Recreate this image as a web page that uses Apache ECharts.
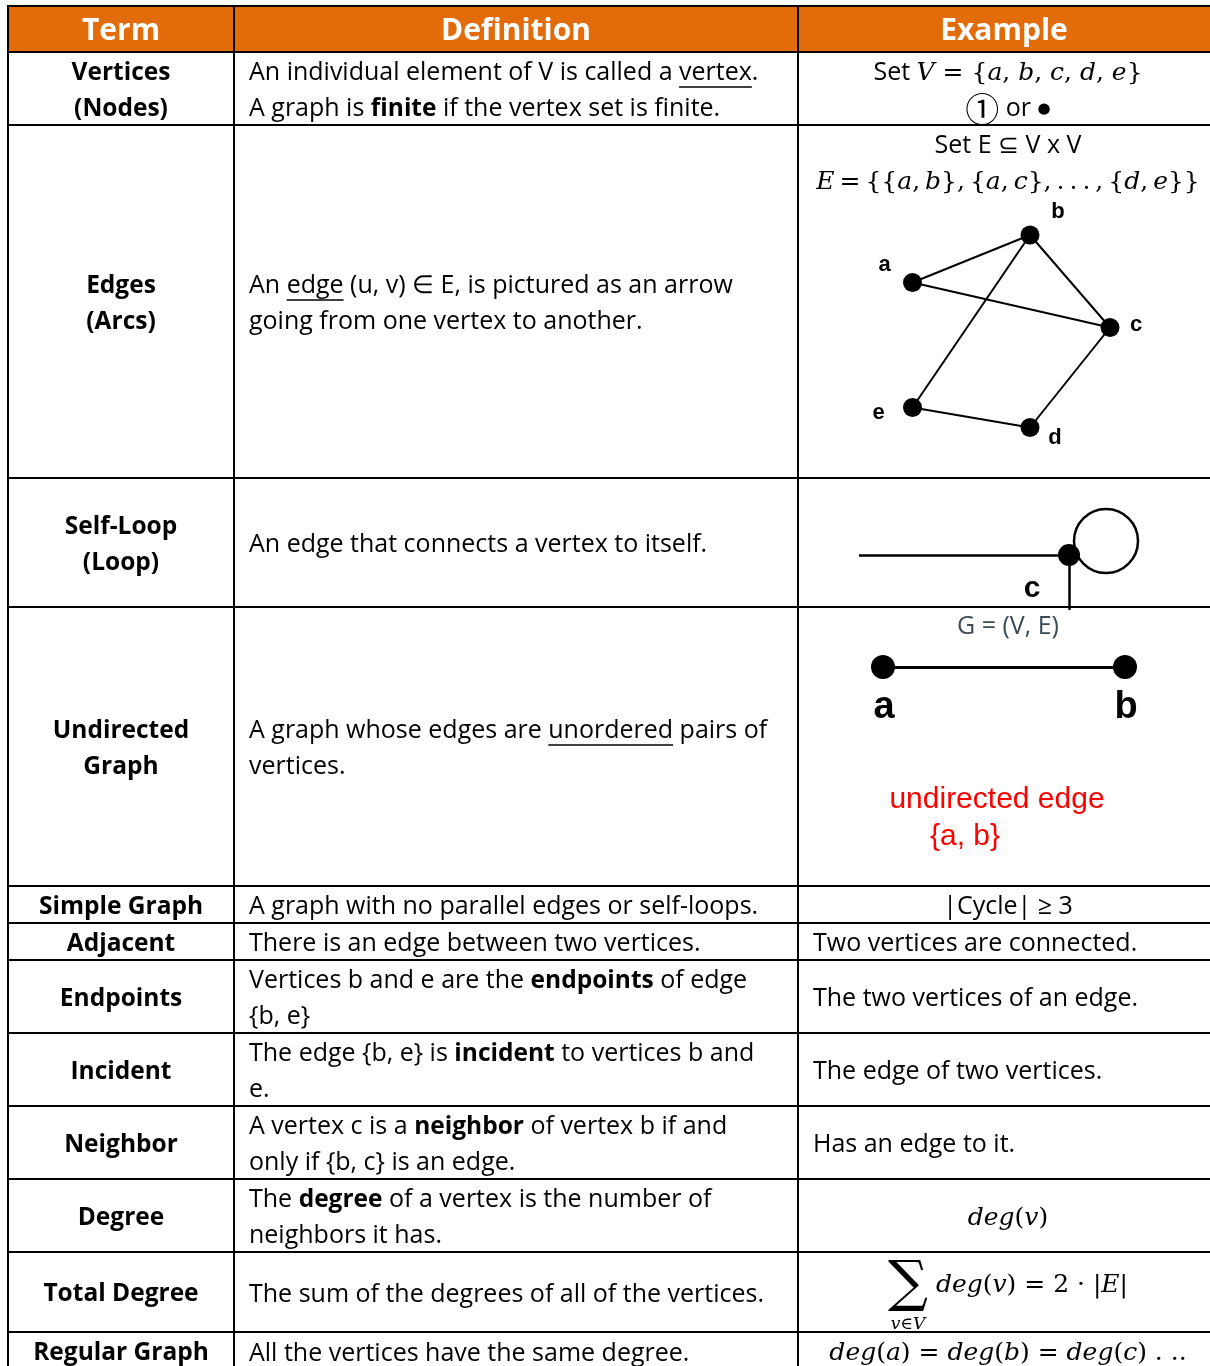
<!DOCTYPE html>
<html>
<head>
<meta charset="utf-8">
<script src="https://cdn.jsdelivr.net/npm/echarts@6/dist/echarts.min.js"></script>
<style>
  html, body { margin: 0; padding: 0; background: #fff; }
  #main { width: 1210px; height: 1366px; }
</style>
</head>
<body>
<div id="main"></div>
<script>
// ---- table text ----
// markup: **bold**, __underline__, $math italic$, ~math upright~, ^big operator^, %symbol%, @small symbol@
var headers = ['Term', 'Definition', 'Example'];
var terms = [
  ['Vertices', '(Nodes)'],
  ['Edges', '(Arcs)'],
  ['Self-Loop', '(Loop)'],
  ['Undirected', 'Graph'],
  ['Simple Graph'],
  ['Adjacent'],
  ['Endpoints'],
  ['Incident'],
  ['Neighbor'],
  ['Degree'],
  ['Total Degree'],
  ['Regular Graph']
];
var definitions = [
  ['An individual element of V is called a __vertex__.', 'A graph is **finite** if the vertex set is finite.'],
  ['An __edge__ (u, v) ∈ E, is pictured as an arrow', 'going from one vertex to another.'],
  ['An edge that connects a vertex to itself.'],
  ['A graph whose edges are __unordered__ pairs of', 'vertices.'],
  ['A graph with no parallel edges or self-loops.'],
  ['There is an edge between two vertices.'],
  ['Vertices b and e are the **endpoints** of edge', '{b, e}'],
  ['The edge {b, e} is **incident** to vertices b and', 'e.'],
  ['A vertex c is a **neighbor** of vertex b if and', 'only if {b, c} is an edge.'],
  ['The **degree** of a vertex is the number of', 'neighbors it has.'],
  ['The sum of the degrees of all of the vertices.'],
  ['All the vertices have the same degree.']
];
var examples = [
  ['Set $V$~ = {~$a$~, ~$b$~, ~$c$~, ~$d$~, ~$e$~}~', '%①% or @●@'],
  ['Set E ⊆ V x V', '$E$~\u2009=\u2009{{~$a$~,\u2009~$b$~},\u2009{~$a$~,\u2009~$c$~},\u2009.\u2009.\u2009.\u2009,\u2009{~$d$~,\u2009~$e$~}}~'],
  [],
  ['G = (V, E)'],
  ['|Cycle| ≥ 3'],
  ['Two vertices are connected.'],
  ['The two vertices of an edge.'],
  ['The edge of two vertices.'],
  ['Has an edge to it.'],
  ['$deg$~(~$v$~)~'],
  ['^∑^~ ~$deg$~(~$v$~) = 2 · |~$E$~|~'],
  ['$deg$~(~$a$~) = ~$deg$~(~$b$~) = ~$deg$~(~$c$~) . ..~']
];
var sumSubscript = 'v∈V';
var undirectedNote = ['undirected edge', '{a, b}'];

// ---- diagram data ----
// edges example (grid units)
var edgeVertices = ['a', 'b', 'c', 'd', 'e'];
var edgeVertexX = [2.1, 6.8, 10.0, 6.8, 2.1];
var edgeVertexY = [3.3, 1.4, 5.1, 9.1, 8.3];
var edgePairs = [['a', 'b'], ['a', 'c'], ['b', 'c'], ['b', 'e'], ['c', 'd'], ['d', 'e']];
// self-loop example
var loopPoints = ['', 'c', '', 'loop'];
var loopX = [9, 219, 219, 256];
var loopY = [55, 55, 110, 41];
var loopPairs = [[0, 1], [1, 2]];
// undirected example
var pairVertices = ['a', 'b'];
var pairX = [23, 265];
var pairY = [27, 27];

// ---- layout / style ----
var colX = [8, 234, 798, 1210];
var headerTop = 6, headerBottom = 52;
var rowEdges = [52, 125, 478, 607, 886, 923, 960, 1033, 1106, 1179, 1252, 1332, 1370];
var lineGap = 35.5;
var exampleAlign = ['center', 'center', 'center', 'center', 'center', 'left', 'left', 'left', 'left', 'center', 'center', 'center'];
var exampleTop = { 1: 146, 3: 627, 10: 1285 };
var fonts = {
  n: '25px "Open Sans"',
  b: 'bold 24.5px "Open Sans"',
  h: 'bold 30px "Open Sans"',
  mi: 'italic 25px "DejaVu Serif"',
  mr: '25px "DejaVu Serif"',
  big: '56px "DejaVu Serif"',
  sym: '34px "Noto Sans CJK SC"',
  dot: '15px "DejaVu Sans"'
};

var ctx = document.createElement('canvas').getContext('2d');
function textWidth(t, font) { ctx.font = font; return ctx.measureText(t).width; }

function parse(markup, baseKind) {
  var parts = markup.split(/(\*\*[^*]+\*\*|__[^_]+__|\$[^$]+\$|~[^~]+~|\^[^^]+\^|%[^%]+%|@[^@]+@)/);
  var segs = [];
  parts.forEach(function (p) {
    if (!p) return;
    if (p.indexOf('**') === 0) segs.push({ t: p.slice(2, -2), k: 'b' });
    else if (p.indexOf('__') === 0) segs.push({ t: p.slice(2, -2), k: baseKind, u: true });
    else if (p[0] === '$') segs.push({ t: p.slice(1, -1), k: 'mi' });
    else if (p[0] === '~') segs.push({ t: p.slice(1, -1), k: 'mr' });
    else if (p[0] === '^') segs.push({ t: p.slice(1, -1), k: 'big' });
    else if (p[0] === '%') segs.push({ t: p.slice(1, -1), k: 'sym' });
    else if (p[0] === '@') segs.push({ t: p.slice(1, -1), k: 'dot' });
    else segs.push({ t: p, k: baseKind });
  });
  return segs;
}

var elements = [];
// lays out one line of segments; returns them with their left x
function drawLine(markup, baseKind, x, y, align, color) {
  var segs = parse(markup, baseKind);
  var total = 0;
  segs.forEach(function (s) { s.w = textWidth(s.t, fonts[s.k]); total += s.w; });
  var cx = align === 'center' ? x - total / 2 : x;
  segs.forEach(function (s) {
    s.x = cx;
    elements.push({
      type: 'text', silent: true,
      style: { text: s.t, x: cx, y: y, font: fonts[s.k], fill: color || '#000',
        textAlign: 'left', textVerticalAlign: 'middle', align: 'left', verticalAlign: 'middle' }
    });
    if (s.u) {
      elements.push({ type: 'rect', silent: true, shape: { x: cx, y: y + 13, width: s.w, height: 1.6 }, style: { fill: '#000' } });
    }
    cx += s.w;
  });
  return segs;
}

// header
elements.push({ type: 'rect', silent: true, shape: { x: colX[0], y: headerTop, width: colX[3] - colX[0], height: headerBottom - headerTop }, style: { fill: '#E26B0A' } });
headers.forEach(function (h, i) {
  drawLine(h, 'h', (colX[i] + colX[i + 1]) / 2, 31, 'center', '#fff');
});

// rows
terms.forEach(function (lines, r) {
  var top = rowEdges[r], bottom = rowEdges[r + 1];
  var mid = (top + bottom) / 2 + 2.5;
  lines.forEach(function (t, i) {
    drawLine(t, 'b', (colX[0] + colX[1]) / 2, mid + (i - (lines.length - 1) / 2) * lineGap, 'center');
  });
  definitions[r].forEach(function (t, i) {
    var n = definitions[r].length;
    drawLine(t, 'n', colX[1] + 15, mid + (i - (n - 1) / 2) * lineGap, 'left');
  });
  var ex = examples[r];
  ex.forEach(function (t, i) {
    var y = exampleTop[r] != null ? exampleTop[r] + i * 36 : mid + (i - (ex.length - 1) / 2) * lineGap;
    var align = exampleAlign[r];
    var x = align === 'center' ? 1008 : colX[2] + 15;
    var segs = drawLine(t, 'n', x, y, align, r === 3 ? '#3b4a55' : '#000');
    if (t.indexOf('^') === 0) {
      elements.push({
        type: 'text', silent: true,
        style: { text: sumSubscript, x: segs[0].x + segs[0].w / 2, y: y + 40, font: 'italic 17px "DejaVu Serif"', fill: '#000',
          textAlign: 'center', textVerticalAlign: 'middle', align: 'center', verticalAlign: 'middle' }
      });
    }
  });
});

// red note in the undirected example
undirectedNote.forEach(function (t, i) {
  elements.push({
    type: 'text', silent: true,
    style: { text: t, x: i === 0 ? 997 : 965, y: 800 + i * 37, font: '30px "Liberation Sans"', fill: '#ff0000',
      textAlign: 'center', textVerticalAlign: 'middle', align: 'center', verticalAlign: 'middle' }
  });
});

// borders
elements.push({ type: 'rect', silent: true, shape: { x: colX[0], y: headerTop - 1, width: colX[3] - colX[0], height: 2 }, style: { fill: '#000' } });
rowEdges.slice(0, -1).forEach(function (y) {
  elements.push({ type: 'rect', silent: true, shape: { x: colX[0], y: y - 1, width: colX[3] - colX[0], height: 2 }, style: { fill: '#000' } });
});
colX.slice(0, 3).forEach(function (x) {
  elements.push({ type: 'rect', silent: true, shape: { x: x - 1, y: headerTop - 1, width: 2, height: 1366 }, style: { fill: '#000' } });
});

// ---- diagram series ----
var edgeLabelOffset = { a: [-28, -18], b: [28, -23], c: [26, -3], d: [25, 10], e: [-34, 5] };
var edgeGraph = {
  type: 'graph', layout: 'none', coordinateSystem: 'cartesian2d', xAxisIndex: 0, yAxisIndex: 0,
  symbol: 'circle', symbolSize: 19, itemStyle: { color: '#000' },
  lineStyle: { color: '#000', width: 2, opacity: 1, curveness: 0 },
  label: { show: true, position: 'inside', color: '#000', fontFamily: 'Liberation Sans', fontWeight: 'bold', fontSize: 22 },
  emphasis: { disabled: true },
  data: edgeVertices.map(function (v, i) {
    return { name: v, value: [edgeVertexX[i], edgeVertexY[i]], label: { offset: edgeLabelOffset[v], formatter: v } };
  }),
  links: edgePairs.map(function (p) {
    return { source: edgeVertices.indexOf(p[0]), target: edgeVertices.indexOf(p[1]) };
  })
};

var loopGraph = {
  type: 'graph', layout: 'none', coordinateSystem: 'cartesian2d', xAxisIndex: 1, yAxisIndex: 1,
  symbol: 'circle', itemStyle: { color: '#000' },
  lineStyle: { color: '#000', width: 2.5, opacity: 1, curveness: 0 },
  emphasis: { disabled: true },
  data: [3, 0, 2, 1].map(function (i) {
    var item = { name: 'p' + i, value: [loopX[i], loopY[i]], symbolSize: 0, label: { show: false } };
    if (loopPoints[i] === 'loop') {
      item.symbolSize = 64;
      item.itemStyle = { color: 'rgba(0,0,0,0)', borderColor: '#000', borderWidth: 2.5 };
    } else if (loopPoints[i]) {
      item.symbolSize = 22;
      item.label = { show: true, position: 'inside', offset: [-37, 34], formatter: loopPoints[i], color: '#000',
        fontFamily: 'Liberation Sans', fontWeight: 'bold', fontSize: 30 };
    }
    return item;
  }),
  links: loopPairs.map(function (p) { return { source: 'p' + p[0], target: 'p' + p[1] }; })
};

var pairGraph = {
  type: 'graph', layout: 'none', coordinateSystem: 'cartesian2d', xAxisIndex: 2, yAxisIndex: 2,
  symbol: 'circle', symbolSize: 24, itemStyle: { color: '#000' },
  lineStyle: { color: '#000', width: 3, opacity: 1, curveness: 0 },
  label: { show: true, position: 'inside', offset: [1, 41], color: '#000', fontFamily: 'Liberation Sans', fontWeight: 'bold', fontSize: 38 },
  emphasis: { disabled: true },
  data: pairVertices.map(function (v, i) { return { name: v, value: [pairX[i], pairY[i]], label: { formatter: v } }; }),
  links: [{ source: 0, target: 1 }]
};

var chart = echarts.init(document.getElementById('main'));
chart.setOption({
  animation: false,
  grid: [
    { left: 860, top: 200, width: 300, height: 250 },
    { left: 850, top: 500, width: 300, height: 107 },
    { left: 860, top: 640, width: 300, height: 60 }
  ],
  xAxis: [
    { type: 'value', gridIndex: 0, min: 0, max: 12, show: false },
    { type: 'value', gridIndex: 1, min: 0, max: 300, show: false },
    { type: 'value', gridIndex: 2, min: 0, max: 300, show: false }
  ],
  yAxis: [
    { type: 'value', gridIndex: 0, min: 0, max: 10, inverse: true, show: false },
    { type: 'value', gridIndex: 1, min: 0, max: 107, inverse: true, show: false },
    { type: 'value', gridIndex: 2, min: 0, max: 60, inverse: true, show: false }
  ],
  graphic: { elements: elements },
  series: [edgeGraph, loopGraph, pairGraph]
});
</script>
</body>
</html>
